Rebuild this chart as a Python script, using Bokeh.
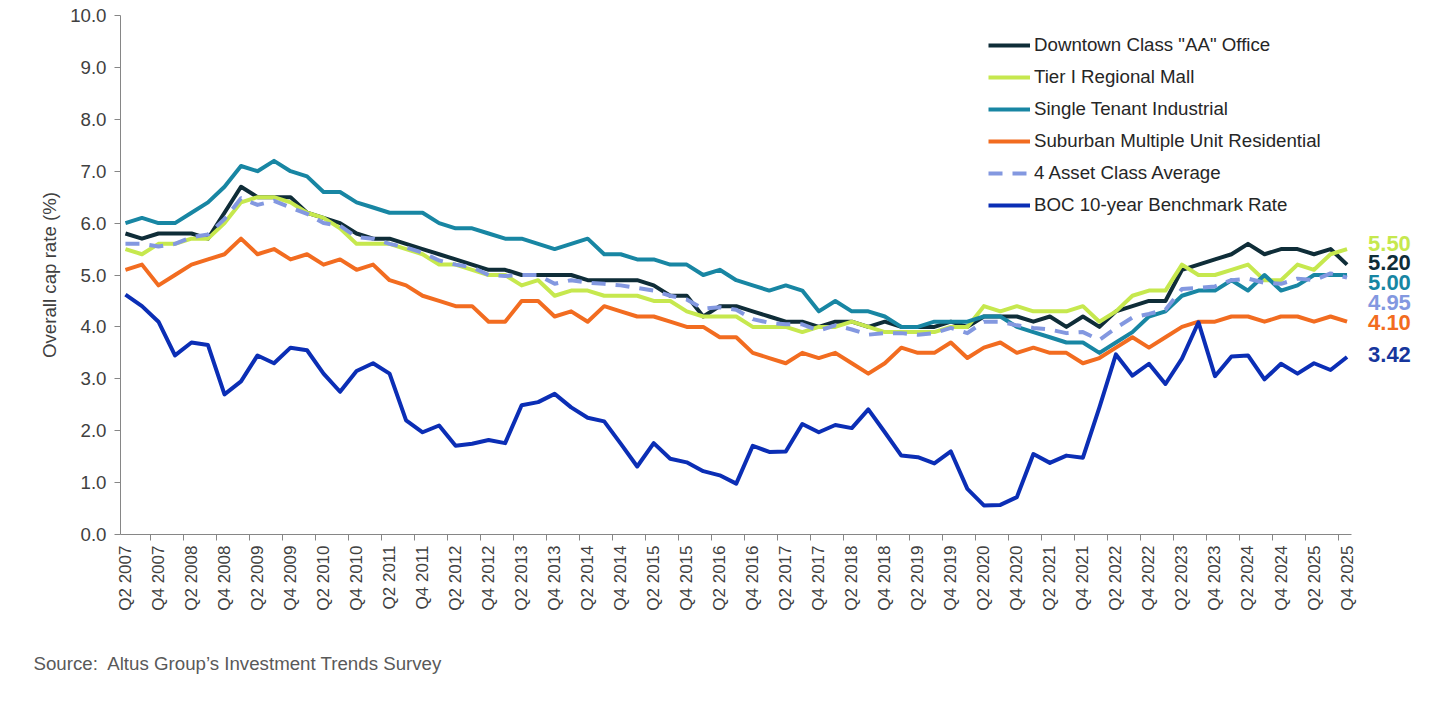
import math
from bokeh.plotting import figure
from bokeh.models import (FixedTicker, PrintfTickFormatter, Legend, LegendItem,
                          Label, Range1d, Title)
from bokeh.embed import file_html
from bokeh.resources import INLINE

FONT = "Liberation Sans"
TXT = "#404040"

# ---------------- data ----------------
quarters = [
    "Q2 2007", "Q3 2007", "Q4 2007",
    "Q1 2008", "Q2 2008", "Q3 2008", "Q4 2008",
    "Q1 2009", "Q2 2009", "Q3 2009", "Q4 2009",
    "Q1 2010", "Q2 2010", "Q3 2010", "Q4 2010",
    "Q1 2011", "Q2 2011", "Q3 2011", "Q4 2011",
    "Q1 2012", "Q2 2012", "Q3 2012", "Q4 2012",
    "Q1 2013", "Q2 2013", "Q3 2013", "Q4 2013",
    "Q1 2014", "Q2 2014", "Q3 2014", "Q4 2014",
    "Q1 2015", "Q2 2015", "Q3 2015", "Q4 2015",
    "Q1 2016", "Q2 2016", "Q3 2016", "Q4 2016",
    "Q1 2017", "Q2 2017", "Q3 2017", "Q4 2017",
    "Q1 2018", "Q2 2018", "Q3 2018", "Q4 2018",
    "Q1 2019", "Q2 2019", "Q3 2019", "Q4 2019",
    "Q1 2020", "Q2 2020", "Q3 2020", "Q4 2020",
    "Q1 2021", "Q2 2021", "Q3 2021", "Q4 2021",
    "Q1 2022", "Q2 2022", "Q3 2022", "Q4 2022",
    "Q1 2023", "Q2 2023", "Q3 2023", "Q4 2023",
    "Q1 2024", "Q2 2024", "Q3 2024", "Q4 2024",
    "Q1 2025", "Q2 2025", "Q3 2025", "Q4 2025",
]

tick_labels = [
    "Q2 2007", "Q4 2007", "Q2 2008", "Q4 2008", "Q2 2009", "Q4 2009",
    "Q2 2010", "Q4 2010", "Q2 2011", "Q4 2011", "Q2 2012", "Q4 2012",
    "Q2 2013", "Q4 2013", "Q2 2014", "Q4 2014", "Q2 2015", "Q4 2015",
    "Q2 2016", "Q4 2016", "Q2 2017", "Q4 2017", "Q2 2018", "Q4 2018",
    "Q2 2019", "Q4 2019", "Q2 2020", "Q4 2020", "Q2 2021", "Q4 2021",
    "Q2 2022", "Q4 2022", "Q2 2023", "Q4 2023", "Q2 2024", "Q4 2024",
    "Q2 2025", "Q4 2025",
]

office = [
    5.8, 5.7, 5.8, 5.8, 5.8, 5.7, 6.2, 6.7, 6.5, 6.5,
    6.5, 6.2, 6.1, 6.0, 5.8, 5.7, 5.7, 5.6, 5.5, 5.4,
    5.3, 5.2, 5.1, 5.1, 5.0, 5.0, 5.0, 5.0, 4.9, 4.9,
    4.9, 4.9, 4.8, 4.6, 4.6, 4.2, 4.4, 4.4, 4.3, 4.2,
    4.1, 4.1, 4.0, 4.1, 4.1, 4.0, 4.1, 4.0, 4.0, 4.0,
    4.1, 4.0, 4.2, 4.2, 4.2, 4.1, 4.2, 4.0, 4.2, 4.0,
    4.3, 4.4, 4.5, 4.5, 5.1, 5.2, 5.3, 5.4, 5.6, 5.4,
    5.5, 5.5, 5.4, 5.5, 5.2,
]

mall = [
    5.5, 5.4, 5.6, 5.6, 5.7, 5.7, 6.0, 6.4, 6.5, 6.5,
    6.4, 6.2, 6.1, 5.9, 5.6, 5.6, 5.6, 5.5, 5.4, 5.2,
    5.2, 5.1, 5.0, 5.0, 4.8, 4.9, 4.6, 4.7, 4.7, 4.6,
    4.6, 4.6, 4.5, 4.5, 4.3, 4.2, 4.2, 4.2, 4.0, 4.0,
    4.0, 3.9, 4.0, 4.0, 4.1, 4.0, 3.9, 3.9, 3.9, 3.9,
    4.0, 4.0, 4.4, 4.3, 4.4, 4.3, 4.3, 4.3, 4.4, 4.1,
    4.3, 4.6, 4.7, 4.7, 5.2, 5.0, 5.0, 5.1, 5.2, 4.9,
    4.9, 5.2, 5.1, 5.4, 5.5,
]

industrial = [
    6.0, 6.1, 6.0, 6.0, 6.2, 6.4, 6.7, 7.1, 7.0, 7.2,
    7.0, 6.9, 6.6, 6.6, 6.4, 6.3, 6.2, 6.2, 6.2, 6.0,
    5.9, 5.9, 5.8, 5.7, 5.7, 5.6, 5.5, 5.6, 5.7, 5.4,
    5.4, 5.3, 5.3, 5.2, 5.2, 5.0, 5.1, 4.9, 4.8, 4.7,
    4.8, 4.7, 4.3, 4.5, 4.3, 4.3, 4.2, 4.0, 4.0, 4.1,
    4.1, 4.1, 4.2, 4.2, 4.0, 3.9, 3.8, 3.7, 3.7, 3.5,
    3.7, 3.9, 4.2, 4.3, 4.6, 4.7, 4.7, 4.9, 4.7, 5.0,
    4.7, 4.8, 5.0, 5.0, 5.0,
]

residential = [
    5.1, 5.2, 4.8, 5.0, 5.2, 5.3, 5.4, 5.7, 5.4, 5.5,
    5.3, 5.4, 5.2, 5.3, 5.1, 5.2, 4.9, 4.8, 4.6, 4.5,
    4.4, 4.4, 4.1, 4.1, 4.5, 4.5, 4.2, 4.3, 4.1, 4.4,
    4.3, 4.2, 4.2, 4.1, 4.0, 4.0, 3.8, 3.8, 3.5, 3.4,
    3.3, 3.5, 3.4, 3.5, 3.3, 3.1, 3.3, 3.6, 3.5, 3.5,
    3.7, 3.4, 3.6, 3.7, 3.5, 3.6, 3.5, 3.5, 3.3, 3.4,
    3.6, 3.8, 3.6, 3.8, 4.0, 4.1, 4.1, 4.2, 4.2, 4.1,
    4.2, 4.2, 4.1, 4.2, 4.1,
]

average = [
    5.60, 5.60, 5.55, 5.60, 5.73, 5.78, 6.08, 6.48, 6.35, 6.43,
    6.30, 6.18, 6.00, 5.95, 5.73, 5.70, 5.60, 5.53, 5.43, 5.28,
    5.20, 5.15, 5.00, 4.98, 5.00, 5.00, 4.83, 4.90, 4.85, 4.83,
    4.80, 4.75, 4.70, 4.60, 4.53, 4.35, 4.38, 4.33, 4.15, 4.08,
    4.05, 4.05, 3.93, 4.03, 3.95, 3.85, 3.88, 3.88, 3.85, 3.88,
    3.98, 3.88, 4.10, 4.10, 4.03, 3.98, 3.95, 3.88, 3.90, 3.75,
    3.98, 4.18, 4.25, 4.33, 4.73, 4.75, 4.78, 4.90, 4.93, 4.85,
    4.83, 4.93, 4.90, 5.03, 4.95,
]

boc = [
    4.62, 4.40, 4.10, 3.45, 3.70, 3.65, 2.70, 2.95, 3.45, 3.30,
    3.60, 3.55, 3.10, 2.75, 3.15, 3.30, 3.10, 2.20, 1.97, 2.10,
    1.71, 1.75, 1.82, 1.76, 2.49, 2.55, 2.71, 2.45, 2.25, 2.18,
    1.75, 1.31, 1.76, 1.46, 1.39, 1.22, 1.14, 0.98, 1.71, 1.59,
    1.60, 2.13, 1.97, 2.11, 2.05, 2.41, 1.97, 1.52, 1.49, 1.37,
    1.60, 0.88, 0.56, 0.57, 0.72, 1.55, 1.38, 1.52, 1.48, 2.45,
    3.47, 3.06, 3.29, 2.90, 3.39, 4.09, 3.05, 3.43, 3.45, 2.99,
    3.29, 3.10, 3.30, 3.17, 3.42,
]

series_names = [
    'Downtown Class "AA" Office',
    "Tier I Regional Mall",
    "Single Tenant Industrial",
    "Suburban Multiple Unit Residential",
    "4 Asset Class Average",
    "BOC 10-year Benchmark Rate",
]
series_values = [office, mall, industrial, residential, average, boc]
series_colors = ["#0f2d38", "#c6e84e", "#1886a3", "#f26c20", "#8398e0", "#0b2eb5"]
label_colors = ["#0f2d38", "#c6e84e", "#1886a3", "#f26c20", "#8398e0", "#16369c"]
series_dashes = ["solid", "solid", "solid", "solid", "14 10", "solid"]

# end-of-line value labels: order and vertical nudges (px, + is up)
end_label_order = [1, 0, 2, 4, 3, 5]
end_label_nudge = [5.5, 2.0, -7.5, -25.0, -1.0, 2.5]

# ---------------- figure ----------------
n = len(quarters)
x = list(range(n))

# frame spans the label gutter on the right; the x axis line is bounded
x_lo, x_hi = -0.3, n - 1 + 0.3
x_view_hi = x_hi + 4.15

p = figure(width=1440, height=713, output_backend="svg", toolbar_location=None,
           title=None, x_range=Range1d(x_lo, x_view_hi), y_range=Range1d(0, 10),
           min_border_left=120, min_border_right=20, min_border_top=15,
           min_border_bottom=179)
p.grid.visible = False
p.outline_line_color = None
p.background_fill_color = "white"
p.border_fill_color = "white"

items = []
for name, vals, color, dash in zip(series_names, series_values, series_colors, series_dashes):
    r = p.line(x, vals, line_color=color, line_width=4, line_dash=dash,
               line_join="round")
    items.append(LegendItem(label=name, renderers=[r]))

legend = Legend(items=items, location=(868, 318), orientation="vertical",
                padding=0, spacing=10, margin=0,
                glyph_width=42, glyph_height=22, label_height=22, label_standoff=4,
                label_text_font=FONT, label_text_font_size="18.7px",
                label_text_color="#262626", border_line_color=None,
                background_fill_alpha=0)
p.add_layout(legend)

# ---- x axis ----
tick_idx = [quarters.index(t) for t in tick_labels]
xa = p.xaxis[0]
xa.bounds = (x_lo, x_hi)
xa.ticker = FixedTicker(ticks=tick_idx, minor_ticks=[t + 1.5 for t in tick_idx[:-1]])
xa.major_label_overrides = {t: lab for t, lab in zip(tick_idx, tick_labels)}
xa.major_label_orientation = math.pi / 2
xa.major_tick_out = 0
xa.major_tick_in = 0
xa.minor_tick_out = 6
xa.minor_tick_in = 0
xa.minor_tick_line_color = "#868686"
xa.axis_line_color = "#868686"
xa.major_label_standoff = 5
xa.major_label_text_font = FONT
xa.major_label_text_font_size = "17px"
xa.major_label_text_color = TXT

# ---- y axis ----
ya = p.yaxis[0]
ya.ticker = FixedTicker(ticks=list(range(0, 11)))
ya.formatter = PrintfTickFormatter(format="%.1f")
ya.axis_label = "Overall cap rate (%)"
ya.axis_label_text_font = FONT
ya.axis_label_text_font_size = "18.7px"
ya.axis_label_text_font_style = "normal"
ya.axis_label_text_color = TXT
ya.axis_label_standoff = 7
ya.major_tick_out = 6
ya.major_tick_in = 0
ya.minor_tick_line_color = None
ya.major_tick_line_color = "#868686"
ya.axis_line_color = "#868686"
ya.major_label_standoff = 8
ya.major_label_text_font = FONT
ya.major_label_text_font_size = "18.7px"
ya.major_label_text_color = TXT

# ---- end labels ----
for k, nudge in zip(end_label_order, end_label_nudge):
    vals = series_values[k]
    p.add_layout(Label(x=n - 1, y=vals[-1], x_offset=21, y_offset=nudge,
                       text=f"{vals[-1]:.2f}", text_font=FONT,
                       text_font_size="22px", text_font_style="bold",
                       text_color=label_colors[k], text_baseline="middle",
                       text_align="left"))

# ---- source note ----
src = Title(text="Source:\u00a0 Altus Group\u2019s Investment Trends Survey",
            align="left", offset=-87, standoff=77, vertical_align="middle",
            text_font=FONT, text_font_size="18.7px", text_font_style="normal",
            text_color="#595959")
p.add_layout(src, "below")

open("out.html", "w").write(file_html(p, INLINE))
